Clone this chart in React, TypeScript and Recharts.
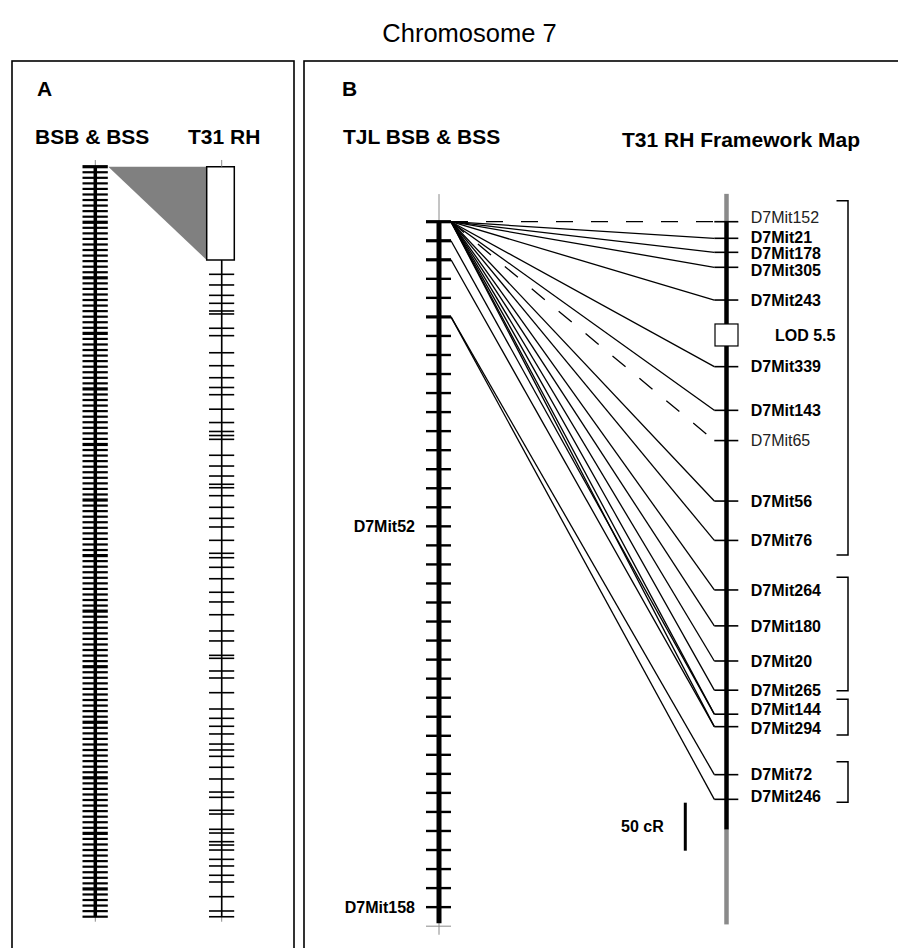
import React from "react";
import { ComposedChart, XAxis, YAxis, Line, Scatter, Area, ReferenceArea } from "recharts";

const W = 898;
const H = 948;
const FONT = "'Liberation Sans', Arial, Helvetica, sans-serif";
const GREY = "#8a8a8a";

// ---- Panel A: BSB & BSS (cM) vs T31 RH (cR) ----
const bsbTicksA = [
  0, 0.5, 1, 1.5, 2, 2.5, 3, 3.5, 4, 4.5, 5, 5.5, 6, 6.5, 7, 7.5, 8, 8.5, 9, 9.5,
  10, 10.5, 11, 11.5, 12, 12.5, 13, 13.5, 14, 14.5, 15, 15.5, 16, 16.5, 17, 17.5, 18, 18.5, 19, 19.5,
  20, 20.5, 21, 21.5, 22, 22.5, 23, 23.5, 24, 24.5, 25, 25.5, 26, 26.5, 27, 27.5, 28, 28.5, 29, 29.5,
  30, 30.5, 31, 31.5, 32, 32.5, 33, 33.5, 34, 34.5, 35, 35.5, 36, 36.5, 37, 37.5, 38, 38.5, 39, 39.5,
  40, 40.5, 41, 41.5, 42, 42.5, 43, 43.5, 44, 44.5, 45, 45.5, 46, 46.5, 47, 47.5, 48, 48.5, 49, 49.5,
  50, 50.5, 51, 51.5, 52, 52.5, 53, 53.5, 54, 54.5, 55, 55.5, 56, 56.5, 57, 57.5, 58, 58.5, 59, 59.5,
  60, 60.5, 61, 61.5, 62, 62.5, 63, 63.5, 64, 64.5, 65, 65.5, 66, 66.5, 67, 67.5,
];
const bsbEndA = 67.5;
const rhBoxA = [0, 97.2];
const rhTicksA = [
  112.1, 123.2, 134, 142.3, 150.3, 153.4, 168.3, 176, 193.8, 207.3, 219.8, 230, 237.5, 252.6,
  266.5, 275.8, 280, 284, 300.6, 311.8, 322.2, 330.8, 334.4, 342.7, 354.8, 366.3, 375.3, 389.2,
  402.7, 407.3, 417.3, 429.2, 443.3, 453.4, 466.7, 483.6, 494, 509, 512.1, 525.3, 532.6, 547.9,
  564.9, 574.6, 582.9, 590.9, 601.4, 607.6, 614.2, 625.6, 637.8, 651.4, 656.9, 670.4, 674.3,
  690.2, 694.1, 703.1, 706.6, 711.8, 721.5, 728.4, 738.1, 745.1, 760.4, 775.3, 781.3,
];

// ---- Panel B: TJL BSB & BSS (cM) vs T31 RH framework map (cR) ----
const tjlTicks = [0, 2, 4, 6, 8, 10, 12, 14, 16, 18, 20, 22, 24, 26, 28, 30, 32, 34, 36, 38, 40, 42, 44, 46, 48, 50, 52, 54, 56, 58, 60, 62, 64, 66, 68, 70, 72];
const tjlEnd = 74;
const tjlLabels = [
  { name: "D7Mit52", cm: 32 },
  { name: "D7Mit158", cm: 72 },
];
const rhMarkers = [
  { name: "D7Mit152", cr: 0, framework: false },
  { name: "D7Mit21", cr: 17.3, framework: true },
  { name: "D7Mit178", cr: 31.9, framework: true },
  { name: "D7Mit305", cr: 47.5, framework: true },
  { name: "D7Mit243", cr: 81.6, framework: true },
  { name: "D7Mit339", cr: 151, framework: true },
  { name: "D7Mit143", cr: 196.5, framework: true },
  { name: "D7Mit65", cr: 228, framework: false },
  { name: "D7Mit56", cr: 291, framework: true },
  { name: "D7Mit76", cr: 332, framework: true },
  { name: "D7Mit264", cr: 383.6, framework: true },
  { name: "D7Mit180", cr: 421, framework: true },
  { name: "D7Mit20", cr: 457.6, framework: true },
  { name: "D7Mit265", cr: 488, framework: true },
  { name: "D7Mit144", cr: 513, framework: true },
  { name: "D7Mit294", cr: 526, framework: true },
  { name: "D7Mit72", cr: 576, framework: true },
  { name: "D7Mit246", cr: 601.7, framework: true },
];
const links = [
  { cm: 0, to: "D7Mit152" }, { cm: 0, to: "D7Mit21" }, { cm: 0, to: "D7Mit178" },
  { cm: 0, to: "D7Mit305" }, { cm: 0, to: "D7Mit243" }, { cm: 0, to: "D7Mit339" },
  { cm: 0, to: "D7Mit143" }, { cm: 0, to: "D7Mit65" }, { cm: 0, to: "D7Mit56" },
  { cm: 0, to: "D7Mit76" }, { cm: 0, to: "D7Mit264" }, { cm: 0, to: "D7Mit180" },
  { cm: 0, to: "D7Mit20" }, { cm: 0, to: "D7Mit265" }, { cm: 0, to: "D7Mit144" },
  { cm: 0, to: "D7Mit294" }, { cm: 2, to: "D7Mit144" }, { cm: 4, to: "D7Mit294" },
  { cm: 10, to: "D7Mit72" }, { cm: 10, to: "D7Mit246" },
];
const linkOrigins = [0, 2, 4, 10];
const lodPeak = { label: "LOD 5.5", cr: 118 };
const groups = [
  [-21.9, 347.2],
  [370.4, 488.5],
  [497.5, 534.7],
  [562.5, 604.8],
];
const rhMapB = { top: -29, start: 0, end: 633, bottom: 732 };
const scaleBar = { from: 605.2, length: 50, label: "50 cR" };

// ---- layout ----
const A_CM = { origin: 166.7, ppu: 11.111 };
const A_CR = { origin: 166.7, ppu: 0.96 };
const B_CM = { origin: 221.7, ppu: 9.52 };
const B_CR = { origin: 221.7, ppu: 0.96 };
const dom = (s: { origin: number; ppu: number }): [number, number] => [-s.origin / s.ppu, (H - s.origin) / s.ppu];
const cmToCr = (cm: number) => (B_CM.origin + cm * B_CM.ppu - B_CR.origin) / B_CR.ppu;

const AX_L = 95.3;
const AX_R = 221.7;
const BX_L = 439;
const LINK_X0 = 451;
const BX_R = 726.5;
const LINK_X1 = 714.3;
const LABEL_X = 750.7;
const BR_X = 848;
const BR_TICK = 11.5;
const SCALE_X = 685.3;

// label nudges (px) where marker names are spread apart
const labelNudge: Record<string, number> = {
  D7Mit152: -4,
  D7Mit21: -1.5,
  D7Mit178: 1,
  D7Mit305: 3.4,
  D7Mit144: -5,
  D7Mit294: 1.8,
  D7Mit246: -3,
};

const seg = (x1: number, y1: number, x2: number, y2: number) => [
  { x: x1, y: y1 },
  { x: x2, y: y2 },
];

const hTick = (left: number, right: number, width: (p: any) => number, color = "#000") => (p: any) => (
  <line x1={p.cx - left} x2={p.cx + right} y1={p.cy} y2={p.cy} stroke={color} strokeWidth={width(p)} />
);

const lineProps = { dot: false, activeDot: false, isAnimationActive: false, legendType: "none" as const, type: "linear" as const };

export default function App() {
  const markerY = (name: string) => rhMarkers.find((m) => m.name === name)!.cr;
  return (
    <div style={{ position: "absolute", left: 0, top: 0, width: W, height: H, background: "#fff", fontFamily: FONT }}>
      <ComposedChart width={W} height={H} margin={{ top: 0, right: 0, bottom: 0, left: 0 }}>
        <XAxis type="number" dataKey="x" domain={[0, W]} hide allowDataOverflow />
        <YAxis yAxisId="acm" type="number" dataKey="y" domain={dom(A_CM)} reversed hide allowDataOverflow />
        <YAxis yAxisId="acr" type="number" dataKey="y" domain={dom(A_CR)} reversed hide allowDataOverflow />
        <YAxis yAxisId="bcm" type="number" dataKey="y" domain={dom(B_CM)} reversed hide allowDataOverflow />
        <YAxis yAxisId="bcr" type="number" dataKey="y" domain={dom(B_CR)} reversed hide allowDataOverflow />

        {/* Panel A: wedge from ruler top to RH box */}
        <Area
          yAxisId="acr"
          data={[
            { x: 108.3, y: [rhBoxA[0], rhBoxA[0]] },
            { x: 206.7, y: [rhBoxA[0], rhBoxA[1]] },
          ]}
          dataKey="y"
          type="linear"
          stroke="none"
          fill="#808080"
          fillOpacity={1}
          isAnimationActive={false}
          legendType="none"
          dot={false}
          activeDot={false}
        />

        {/* Panel A left ruler */}
        <Line yAxisId="acm" data={seg(AX_L, -0.6, AX_L, 67.95)} dataKey="y" stroke={GREY} strokeWidth={1} {...lineProps} />
        <Line yAxisId="acm" data={seg(AX_L, 0, AX_L, bsbEndA)} dataKey="y" stroke="#000" strokeWidth={3.5} {...lineProps} />
        <Scatter
          yAxisId="acm"
          data={bsbTicksA.map((v) => ({ x: AX_L, y: v }))}
          isAnimationActive={false}
          shape={hTick(12.8, 12.5, (p) => (p.payload.y % 5 === 0 ? 3.2 : 2.2))}
        />

        {/* Panel A right RH map */}
        <Line yAxisId="acr" data={seg(AX_R, -7, AX_R, 0)} dataKey="y" stroke={GREY} strokeWidth={1} {...lineProps} />
        <Line yAxisId="acr" data={seg(AX_R, rhBoxA[1], AX_R, 786.5)} dataKey="y" stroke={GREY} strokeWidth={1} {...lineProps} />
        <Line yAxisId="acr" data={seg(AX_R, rhBoxA[1], AX_R, rhTicksA[rhTicksA.length - 1])} dataKey="y" stroke="#000" strokeWidth={1.6} {...lineProps} />
        <ReferenceArea yAxisId="acr" x1={206.7} x2={234.3} y1={rhBoxA[0]} y2={rhBoxA[1]} fill="#fff" fillOpacity={1} stroke="#000" strokeWidth={1.5} ifOverflow="visible" />
        <Scatter
          yAxisId="acr"
          data={rhTicksA.map((v) => ({ x: AX_R, y: v }))}
          isAnimationActive={false}
          shape={hTick(12.7, 12.5, () => 1.6)}
        />

        {/* Panel B left map */}
        <Line yAxisId="bcm" data={seg(BX_L, -2.9, BX_L, 74.9)} dataKey="y" stroke={GREY} strokeWidth={1} {...lineProps} />
        <Line yAxisId="bcm" data={seg(BX_L, 0, BX_L, tjlEnd - 0.3)} dataKey="y" stroke="#000" strokeWidth={5} {...lineProps} />
        <Scatter
          yAxisId="bcm"
          data={[{ x: BX_L, y: tjlEnd }]}
          isAnimationActive={false}
          shape={hTick(13, 12, () => 1, GREY)}
        />
        <Scatter
          yAxisId="bcm"
          data={tjlTicks.map((v) => ({ x: BX_L, y: v }))}
          isAnimationActive={false}
          shape={hTick(13, 12, (p) => (linkOrigins.includes(p.payload.y) ? 3.2 : 2.4))}
        />
        <Scatter
          yAxisId="bcm"
          data={tjlLabels.map((l) => ({ x: BX_L, y: l.cm, name: l.name }))}
          isAnimationActive={false}
          shape={(p: any) => (
            <text x={p.cx - 24} y={p.cy} dy="0.36em" textAnchor="end" fontFamily={FONT} fontWeight="bold" fontSize={16} fill="#000">
              {p.payload.name}
            </text>
          )}
        />

        {/* Panel B links */}
        {links.map((l, i) => {
          const dashed = !rhMarkers.find((m) => m.name === l.to)!.framework;
          return (
            <Line
              key={`link-${i}`}
              yAxisId="bcr"
              data={seg(LINK_X0, cmToCr(l.cm), LINK_X1, markerY(l.to))}
              dataKey="y"
              stroke="#000"
              strokeWidth={1.3}
              strokeDasharray={dashed ? "17 18" : undefined}
              {...lineProps}
            />
          );
        })}

        {/* Panel B right map */}
        <Line yAxisId="bcr" data={seg(BX_R, rhMapB.top, BX_R, rhMapB.start)} dataKey="y" stroke={GREY} strokeWidth={4.5} {...lineProps} />
        <Line yAxisId="bcr" data={seg(BX_R, rhMapB.end, BX_R, rhMapB.bottom)} dataKey="y" stroke={GREY} strokeWidth={4.5} {...lineProps} />
        <Line yAxisId="bcr" data={seg(BX_R, rhMapB.start, BX_R, rhMapB.end)} dataKey="y" stroke="#000" strokeWidth={4.5} {...lineProps} />
        <Scatter
          yAxisId="bcr"
          data={rhMarkers.map((m) => ({ x: BX_R, y: m.cr, name: m.name, framework: m.framework }))}
          isAnimationActive={false}
          shape={(p: any) => (
            <g>
              <line x1={p.cx - 12.2} x2={p.cx + 11.8} y1={p.cy} y2={p.cy} stroke="#000" strokeWidth={1.6} />
              <text
                x={LABEL_X}
                y={p.cy + (labelNudge[p.payload.name] ?? 0)}
                dy="0.36em"
                fontFamily={FONT}
                fontWeight={p.payload.framework ? "bold" : "normal"}
                fontSize={16}
                fill={p.payload.framework ? "#000" : "#222"}
              >
                {p.payload.name}
              </text>
            </g>
          )}
        />
        <Scatter
          yAxisId="bcr"
          data={[{ x: BX_R, y: lodPeak.cr, name: lodPeak.label }]}
          isAnimationActive={false}
          shape={(p: any) => (
            <g>
              <rect x={p.cx - 11.5} y={p.cy - 11} width={23} height={22} fill="#fff" stroke="#000" strokeWidth={1.2} />
              <text x={775} y={p.cy} dy="0.36em" fontFamily={FONT} fontWeight="bold" fontSize={16} fill="#000">
                {p.payload.name}
              </text>
            </g>
          )}
        />

        {/* brackets for linkage groups */}
        {groups.map((g, i) => (
          <Line
            key={`grp-${i}`}
            yAxisId="bcr"
            data={[
              { x: BR_X - BR_TICK, y: g[0] },
              { x: BR_X, y: g[0] },
              { x: BR_X, y: g[1] },
              { x: BR_X - BR_TICK, y: g[1] },
            ]}
            dataKey="y"
            stroke="#000"
            strokeWidth={1.5}
            {...lineProps}
          />
        ))}

        {/* scale bar */}
        <Line
          yAxisId="bcr"
          data={seg(SCALE_X, scaleBar.from, SCALE_X, scaleBar.from + scaleBar.length)}
          dataKey="y"
          stroke="#000"
          strokeWidth={3}
          {...lineProps}
        />
        <Scatter
          yAxisId="bcr"
          data={[{ x: SCALE_X, y: scaleBar.from + scaleBar.length / 2, name: scaleBar.label }]}
          isAnimationActive={false}
          shape={(p: any) => (
            <text x={p.cx - 21.5} y={p.cy} dy="0.36em" textAnchor="end" fontFamily={FONT} fontWeight="bold" fontSize={16} fill="#000">
              {p.payload.name}
            </text>
          )}
        />
      </ComposedChart>

      <svg width={W} height={H} style={{ position: "absolute", left: 0, top: 0, pointerEvents: "none" }}>
        <text x={469.5} y={33} dy="0.36em" textAnchor="middle" fontFamily={FONT} fontSize={25.5} fill="#000">
          Chromosome 7
        </text>
        <rect x={12} y={61} width={282} height={920} fill="none" stroke="#000" strokeWidth={1.6} />
        <rect x={304} y={61} width={620} height={920} fill="none" stroke="#000" strokeWidth={1.6} />
        <g fontFamily={FONT} fontWeight="bold" fontSize={21} fill="#000">
          <text x={37} y={88} dy="0.36em">A</text>
          <text x={342} y={88} dy="0.36em">B</text>
          <text x={35} y={136} dy="0.36em">BSB &amp; BSS</text>
          <text x={188} y={136} dy="0.36em">T31 RH</text>
          <text x={343} y={136} dy="0.36em">TJL BSB &amp; BSS</text>
          <text x={622} y={139} dy="0.36em">T31 RH Framework Map</text>
        </g>
      </svg>
    </div>
  );
}
